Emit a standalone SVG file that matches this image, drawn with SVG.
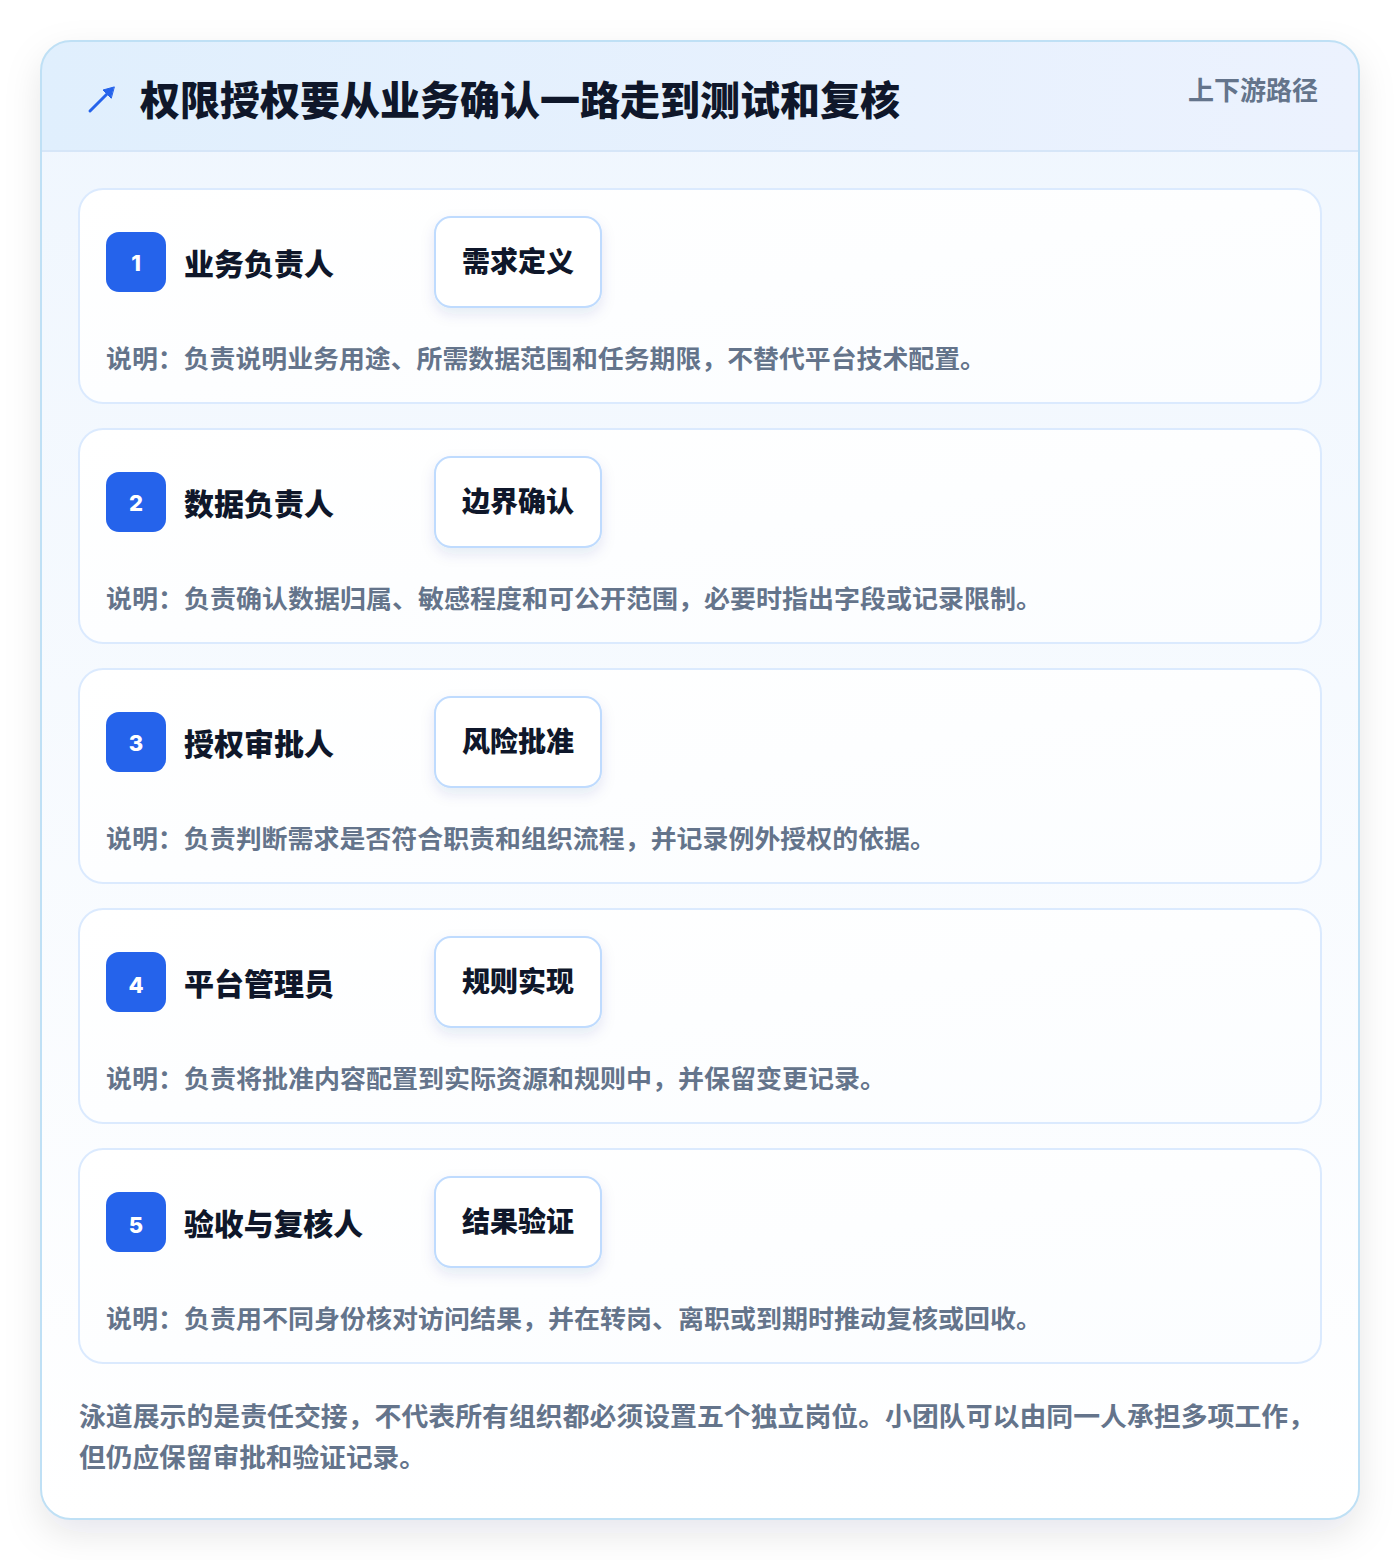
<svg xmlns="http://www.w3.org/2000/svg" width="1400" height="1560" viewBox="0 0 1400 1560">
<defs>
<linearGradient id="bodyG" x1="0" y1="0" x2="0" y2="1">
<stop offset="0" stop-color="#eff6fe"/>
<stop offset="1" stop-color="#ffffff"/>
</linearGradient>
<linearGradient id="headG" x1="0" y1="0" x2="1" y2="0">
<stop offset="0" stop-color="#e0effd"/>
<stop offset="1" stop-color="#ecf2fe"/>
</linearGradient>
<linearGradient id="laneG" x1="0" y1="0" x2="1" y2="1">
<stop offset="0" stop-color="#ffffff"/>
<stop offset="1" stop-color="#fbfdff"/>
</linearGradient>
<filter id="cardSh" x="-10%" y="-10%" width="120%" height="120%">
<feDropShadow dx="0" dy="14" stdDeviation="18" flood-color="#0f172a" flood-opacity="0.10"/>
</filter>
<filter id="boxSh" x="-30%" y="-30%" width="160%" height="180%">
<feDropShadow dx="0" dy="6" stdDeviation="7" flood-color="#1e3a8a" flood-opacity="0.10"/>
</filter>
<clipPath id="cardClip"><rect x="41" y="41" width="1318" height="1478" rx="30"/></clipPath>
</defs>
<style>
.f{font-family:"Noto Sans CJK SC","Noto Sans",sans-serif;font-weight:700}
.title{font-size:40px;fill:#0f172a;font-weight:900}
.tag{font-size:26px;fill:#64748b}
.role{font-size:30px;fill:#0f172a;font-weight:900}
.num{font-size:22px;fill:#ffffff;font-family:"Inter","Noto Sans",sans-serif;font-weight:800}
.step{font-size:28px;fill:#0f172a;font-weight:900}
.desc{font-size:25px;fill:#64748b}
.foot{font-size:26px;fill:#64748b}
.lane{fill:url(#laneG);stroke:#dbeafe;stroke-width:2}
.badge{fill:#2563eb}
.box{fill:#ffffff;stroke:#bfdbfe;stroke-width:2}
</style>
<rect width="1400" height="1560" fill="#ffffff"/>
<rect x="41" y="41" width="1318" height="1478" rx="30" fill="url(#bodyG)" filter="url(#cardSh)"/>
<g clip-path="url(#cardClip)">
<rect x="41" y="41" width="1318" height="110" fill="url(#headG)"/>
<line x1="41" y1="151" x2="1359" y2="151" stroke="#d6e6f8" stroke-width="2"/>
</g>
<rect x="41" y="41" width="1318" height="1478" rx="30" fill="none" stroke="#bfe0f5" stroke-width="2"/>
<g id="header">
<g stroke="#2563eb" stroke-width="3" stroke-linecap="round" fill="#2563eb">
<line x1="90" y1="111" x2="110" y2="91"/>
<polygon points="114,87 103,90 111,98" stroke-width="1"/>
</g>
<text class="f title" x="140" y="115" textLength="760" lengthAdjust="spacingAndGlyphs">权限授权要从业务确认一路走到测试和复核</text>
<text class="f tag" x="1188" y="100" textLength="130" lengthAdjust="spacingAndGlyphs">上下游路径</text>
</g>
<g id="lane1">
<rect class="lane" x="79" y="189" width="1242" height="214" rx="24"/>
<rect class="badge" x="106" y="232" width="60" height="60" rx="13"/>
<text class="num" x="136" y="271" text-anchor="middle">1</text>
<text class="f role" x="184" y="275" textLength="150" lengthAdjust="spacingAndGlyphs">业务负责人</text>
<rect class="box" x="435" y="217" width="166" height="90" rx="16" filter="url(#boxSh)"/>
<text class="f step" x="462" y="272" textLength="112" lengthAdjust="spacingAndGlyphs">需求定义</text>
<text class="f desc" x="106" y="368" textLength="880" lengthAdjust="spacingAndGlyphs">说明：负责说明业务用途、所需数据范围和任务期限，不替代平台技术配置。</text>
</g>
<g id="lane2">
<rect class="lane" x="79" y="429" width="1242" height="214" rx="24"/>
<rect class="badge" x="106" y="472" width="60" height="60" rx="13"/>
<text class="num" x="136" y="511" text-anchor="middle">2</text>
<text class="f role" x="184" y="515" textLength="150" lengthAdjust="spacingAndGlyphs">数据负责人</text>
<rect class="box" x="435" y="457" width="166" height="90" rx="16" filter="url(#boxSh)"/>
<text class="f step" x="462" y="512" textLength="112" lengthAdjust="spacingAndGlyphs">边界确认</text>
<text class="f desc" x="106" y="608" textLength="936" lengthAdjust="spacingAndGlyphs">说明：负责确认数据归属、敏感程度和可公开范围，必要时指出字段或记录限制。</text>
</g>
<g id="lane3">
<rect class="lane" x="79" y="669" width="1242" height="214" rx="24"/>
<rect class="badge" x="106" y="712" width="60" height="60" rx="13"/>
<text class="num" x="136" y="751" text-anchor="middle">3</text>
<text class="f role" x="184" y="755" textLength="150" lengthAdjust="spacingAndGlyphs">授权审批人</text>
<rect class="box" x="435" y="697" width="166" height="90" rx="16" filter="url(#boxSh)"/>
<text class="f step" x="462" y="752" textLength="112" lengthAdjust="spacingAndGlyphs">风险批准</text>
<text class="f desc" x="106" y="848" textLength="830" lengthAdjust="spacingAndGlyphs">说明：负责判断需求是否符合职责和组织流程，并记录例外授权的依据。</text>
</g>
<g id="lane4">
<rect class="lane" x="79" y="909" width="1242" height="214" rx="24"/>
<rect class="badge" x="106" y="952" width="60" height="60" rx="13"/>
<text class="num" x="136" y="993" text-anchor="middle">4</text>
<text class="f role" x="184" y="995" textLength="150" lengthAdjust="spacingAndGlyphs">平台管理员</text>
<rect class="box" x="435" y="937" width="166" height="90" rx="16" filter="url(#boxSh)"/>
<text class="f step" x="462" y="992" textLength="112" lengthAdjust="spacingAndGlyphs">规则实现</text>
<text class="f desc" x="106" y="1088" textLength="780" lengthAdjust="spacingAndGlyphs">说明：负责将批准内容配置到实际资源和规则中，并保留变更记录。</text>
</g>
<g id="lane5">
<rect class="lane" x="79" y="1149" width="1242" height="214" rx="24"/>
<rect class="badge" x="106" y="1192" width="60" height="60" rx="13"/>
<text class="num" x="136" y="1233" text-anchor="middle">5</text>
<text class="f role" x="184" y="1235" textLength="179" lengthAdjust="spacingAndGlyphs">验收与复核人</text>
<rect class="box" x="435" y="1177" width="166" height="90" rx="16" filter="url(#boxSh)"/>
<text class="f step" x="462" y="1232" textLength="112" lengthAdjust="spacingAndGlyphs">结果验证</text>
<text class="f desc" x="106" y="1328" textLength="936" lengthAdjust="spacingAndGlyphs">说明：负责用不同身份核对访问结果，并在转岗、离职或到期时推动复核或回收。</text>
</g>
<g id="connectors"></g>
<g id="footer">
<text class="f foot" x="79" y="1426" textLength="1236" lengthAdjust="spacingAndGlyphs">泳道展示的是责任交接，不代表所有组织都必须设置五个独立岗位。小团队可以由同一人承担多项工作，</text>
<text class="f foot" x="79" y="1467" textLength="347" lengthAdjust="spacingAndGlyphs">但仍应保留审批和验证记录。</text>
</g>
</svg>
